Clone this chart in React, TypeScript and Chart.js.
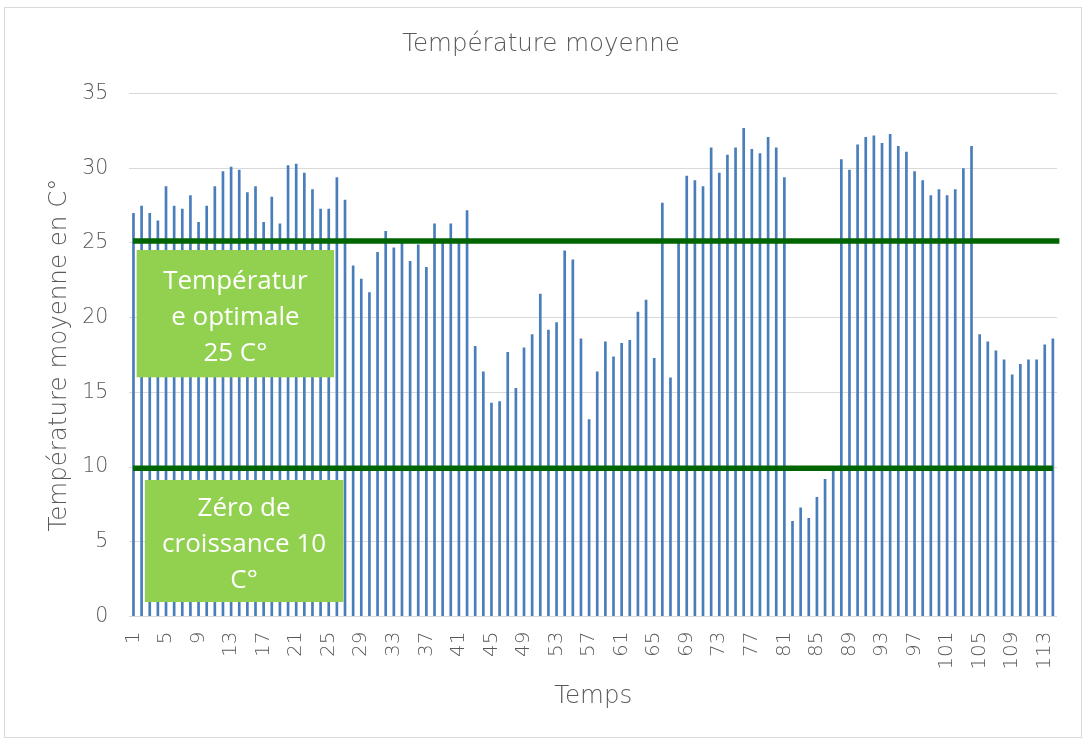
import { useEffect, useRef } from 'react';
import { Chart, registerables } from 'chart.js';

Chart.register(...registerables);

const TITLE = 'Température moyenne';
const X_TITLE = 'Temps';
const Y_TITLE = 'Température moyenne en C°';

const CATEGORIES = [
  '1', '2', '3', '4', '5', '6', '7', '8', '9', '10',
  '11', '12', '13', '14', '15', '16', '17', '18', '19', '20',
  '21', '22', '23', '24', '25', '26', '27', '28', '29', '30',
  '31', '32', '33', '34', '35', '36', '37', '38', '39', '40',
  '41', '42', '43', '44', '45', '46', '47', '48', '49', '50',
  '51', '52', '53', '54', '55', '56', '57', '58', '59', '60',
  '61', '62', '63', '64', '65', '66', '67', '68', '69', '70',
  '71', '72', '73', '74', '75', '76', '77', '78', '79', '80',
  '81', '82', '83', '84', '85', '86', '87', '88', '89', '90',
  '91', '92', '93', '94', '95', '96', '97', '98', '99', '100',
  '101', '102', '103', '104', '105', '106', '107', '108', '109', '110',
  '111', '112', '113', '114',
];

const TEMPERATURES = [
  27.0, 27.5, 27.0, 26.5, 28.8, 27.5, 27.3, 28.2, 26.4, 27.5,
  28.8, 29.8, 30.1, 29.9, 28.4, 28.8, 26.4, 28.1, 26.3, 30.2,
  30.3, 29.7, 28.6, 27.3, 27.3, 29.4, 27.9, 23.5, 22.6, 21.7,
  24.4, 25.8, 24.7, 25.0, 23.8, 24.9, 23.4, 26.3, 25.0, 26.3,
  25.0, 27.2, 18.1, 16.4, 14.3, 14.4, 17.7, 15.3, 18.0, 18.9,
  21.6, 19.2, 19.7, 24.5, 23.9, 18.6, 13.2, 16.4, 18.4, 17.4,
  18.3, 18.5, 20.4, 21.2, 17.3, 27.7, 16.0, 25.0, 29.5, 29.2,
  28.8, 31.4, 29.7, 30.9, 31.4, 32.7, 31.3, 31.0, 32.1, 31.4,
  29.4, 6.4, 7.3, 6.6, 8.0, 9.2, 9.9, 30.6, 29.9, 31.6,
  32.1, 32.2, 31.7, 32.3, 31.5, 31.1, 29.8, 29.2, 28.2, 28.6,
  28.2, 28.6, 30.0, 31.5, 18.9, 18.4, 17.8, 17.2, 16.2, 16.9,
  17.2, 17.2, 18.2, 18.6,
];

const Y_MIN = 0;
const Y_MAX = 35;
const Y_STEP = 5;

// reference lines (value, category-index extent)
const REF_LINE_VALUES = [25.13, 9.93];
const REF_LINE_FROM = [-0.06, -0.06];
const REF_LINE_TO = [113.8, 113.0];

// text boxes in data units
const BOX_TEXTS = [
  ['Températur', 'e optimale', '25 C°'],
  ['Zéro de', 'croissance 10', 'C°'],
];
const BOX_X_FROM = [0.39, 1.4];
const BOX_X_TO = [24.66, 25.8];
const BOX_Y_TOP = [24.53, 9.14];
const BOX_Y_BOTTOM = [16.01, 0.97];

const GRAY = '#595959';
const FONT = 'DejaVu Sans';
const WEIGHT = 300;

const overlayPlugin = {
  id: 'overlay',
  afterDatasetsDraw(chart: any) {
    const ctx = chart.ctx;
    const xs = chart.scales.x;
    const ys = chart.scales.y;
    ctx.save();
    REF_LINE_VALUES.forEach((v, i) => {
      const y = ys.getPixelForValue(v);
      ctx.beginPath();
      ctx.strokeStyle = '#006400';
      ctx.lineWidth = 5.5;
      ctx.moveTo(xs.getPixelForValue(REF_LINE_FROM[i]), y);
      ctx.lineTo(xs.getPixelForValue(REF_LINE_TO[i]), y);
      ctx.stroke();
    });
    BOX_TEXTS.forEach((lines, i) => {
      const x0 = xs.getPixelForValue(BOX_X_FROM[i]);
      const x1 = xs.getPixelForValue(BOX_X_TO[i]);
      const y0 = ys.getPixelForValue(BOX_Y_TOP[i]);
      const y1 = ys.getPixelForValue(BOX_Y_BOTTOM[i]);
      ctx.fillStyle = '#92D050';
      ctx.fillRect(x0, y0, x1 - x0, y1 - y0);
      ctx.fillStyle = '#FFFFFF';
      ctx.font = '26px "Open Sans"';
      ctx.textAlign = 'center';
      ctx.textBaseline = 'middle';
      const cx = (x0 + x1) / 2;
      const cy = (y0 + y1) / 2;
      const lh = 36;
      lines.forEach((t, j) => {
        ctx.fillText(t, cx, cy + (j - (lines.length - 1) / 2) * lh + 4);
      });
    });
    ctx.restore();
  },
};

export default function App() {
  const ref = useRef<HTMLCanvasElement>(null);
  useEffect(() => {
    document.body.style.margin = '0';
    const chart = new Chart(ref.current!, {
      type: 'bar',
      data: {
        labels: CATEGORIES,
        datasets: [
          {
            data: TEMPERATURES,
            backgroundColor: '#4a7ebb',
            borderWidth: 0,
            barPercentage: 0.33,
            categoryPercentage: 1,
          },
        ],
      },
      plugins: [overlayPlugin],
      options: {
        responsive: false,
        animation: false,
        layout: { padding: { left: 17.8, right: 19.8, top: 0, bottom: 0 } },
        plugins: {
          legend: { display: false },
          tooltip: { enabled: false },
          title: {
            display: true,
            text: TITLE,
            color: GRAY,
            font: { family: FONT, size: 24.5, weight: WEIGHT },
            padding: { top: 30.3, bottom: 33.9 },
          },
        },
        scales: {
          x: {
            grid: { display: false, drawTicks: false },
            border: { display: true, color: '#D9D9D9', width: 1 },
            ticks: {
              autoSkip: false,
              minRotation: 90,
              maxRotation: 90,
              padding: 15,
              color: GRAY,
              font: { family: FONT, size: 20, weight: WEIGHT },
              callback: (_v: any, i: number) => (i % 4 === 0 ? CATEGORIES[i] : null),
            },
            title: {
              display: true,
              text: X_TITLE,
              color: GRAY,
              font: { family: FONT, size: 24.5, weight: WEIGHT },
              padding: { top: 0, bottom: 28.3 },
            },
            afterFit: (s: any) => {
              s.height = 123.5;
            },
          },
          y: {
            min: Y_MIN,
            max: Y_MAX,
            grid: { color: '#D9D9D9', drawTicks: false },
            border: { display: false },
            ticks: {
              stepSize: Y_STEP,
              padding: 21,
              color: GRAY,
              font: { family: FONT, size: 20.5, weight: WEIGHT },
            },
            title: {
              display: true,
              text: Y_TITLE,
              color: GRAY,
              font: { family: FONT, size: 24.5, weight: WEIGHT },
              padding: { top: 27.5, bottom: 0 },
            },
            afterFit: (s: any) => {
              s.width = 111.6;
            },
          },
        },
      },
    } as any);
    return () => chart.destroy();
  }, []);
  return (
    <div style={{ position: 'relative', width: 1084, height: 740, background: '#fff' }}>
      <div
        style={{
          position: 'absolute',
          left: 4,
          top: 7,
          width: 1078,
          height: 731,
          border: '1px solid #D9D9D9',
          boxSizing: 'border-box',
        }}
      />
      <canvas
        ref={ref}
        width={1084}
        height={740}
        style={{ position: 'absolute', left: 0, top: 0, width: 1084, height: 740 }}
      />
    </div>
  );
}
